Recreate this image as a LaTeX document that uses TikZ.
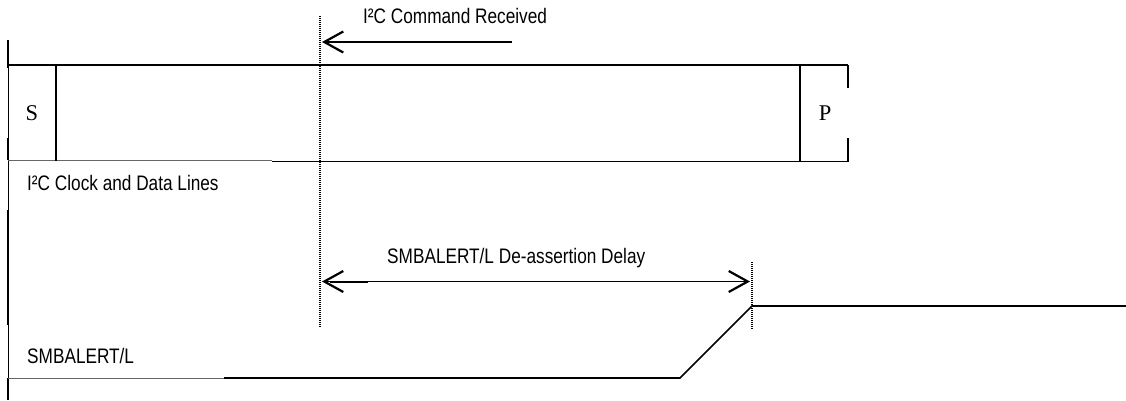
\documentclass[tikz,border=0pt]{standalone}
\usepackage{fontspec}
\setmainfont{Liberation Serif}
\newfontfamily\narrow[FakeStretch=0.82]{Liberation Sans}
\usetikzlibrary{arrows.meta}
\begin{document}
\begin{tikzpicture}[x=1pt,y=-1pt,
  sig/.style={line width=1.6pt,black},
  thinsig/.style={line width=1pt,black!60},
  thick edge/.style={line width=2.4pt,black},
  marker/.style={line width=1.6pt,black,dash pattern=on 1pt off 1pt},
  lbl/.style={font=\narrow\fontsize{21}{24}\selectfont,inner sep=0pt,anchor=base west},
  bit/.style={font=\fontsize{22.5}{26}\selectfont,inner sep=0pt,anchor=base},
  barb/.style={-{Straight Barb[length=19pt,width=21pt,line width=2.2pt]}},
  dbarb/.style={{Straight Barb[length=19pt,width=21pt,line width=2.2pt]}-{Straight Barb[length=19pt,width=21pt,line width=2.2pt]}}]
\useasboundingbox (0,0) rectangle (1126,400);
% left reference edge
\draw[thick edge] (8,40) -- (8,68);
\draw[line width=1pt] (8,68) -- (8,138);
\draw[thick edge] (8,138) -- (8,160);
\draw[line width=1pt] (8,160) -- (8,210);
\draw[thick edge] (8,210) -- (8,325);
\draw[line width=1pt] (8,325) -- (8,378);
\draw[thick edge] (8,378) -- (8,400);
% I2C bus frame
\coordinate (tl) at (8,65);
\coordinate (tr) at (848,65);
\coordinate (bl) at (8,160);
\coordinate (bm) at (272,161.5);
\coordinate (bm0) at (272,160);
\coordinate (br) at (848,161.5);
\draw[sig] (tl) -- (tr);
\draw[thinsig] (bl) -- (bm0);
\draw[line width=1.9pt] (bm) -- (br);
\draw[thick edge] (56,65) -- (56,161);
\draw[thick edge] (800,65) -- (800,88);
\draw[line width=1.3pt] (800,88) -- (800,138);
\draw[thick edge] (800,138) -- (800,161);
\draw[thick edge] (848,65) -- (848,88);
\draw[thick edge] (848,138) -- (848,162);
\node[bit] (S) at (32,120) {S};
\node[bit] (P) at (825,120) {P};
\node[lbl] (buslbl) at (27,190) {I²C Clock and Data Lines};
% markers
\coordinate (m1t) at (320,16);
\coordinate (m1b) at (320,328);
\coordinate (m2t) at (752,262);
\coordinate (m2b) at (752,329);
\draw[marker] (m1t) -- (m1b);
\draw[marker] (m2t) -- (m2b);
% command received
\node[lbl] (cmdlbl) at (363,23) {I²C Command Received};
\coordinate (cmds) at (512,42);
\coordinate (cmde) at (322,42);
\draw[line width=1.5pt,barb] (cmds) -- (cmde);
% delay
\node[lbl] (dellbl) at (387,263) {SMBALERT/L De-assertion Delay};
\coordinate (dl) at (322,281.5);
\coordinate (dr) at (750,281.5);
\draw[line width=1pt,dbarb] (dl) -- (dr);
\draw[line width=2pt] (330,281.5) -- (368,281.5);
% SMBALERT/L waveform
\node[lbl] (alertlbl) at (27,363) {SMBALERT/L};
\coordinate (a0) at (8,378);
\coordinate (a1) at (224,378);
\coordinate (a2) at (680,378);
\coordinate (a3) at (752,306);
\coordinate (a4) at (1126,306);
\draw[thinsig] (a0) -- (a1);
\draw[sig] (a1) -- (a2) -- (a3) -- (a4);
\end{tikzpicture}
\end{document}
